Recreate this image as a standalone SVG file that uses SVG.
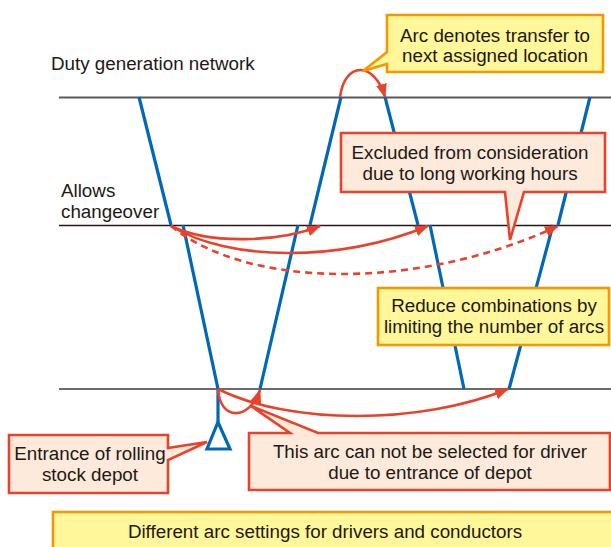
<svg xmlns="http://www.w3.org/2000/svg" width="611" height="547" viewBox="0 0 611 547">
<style>
text{font-family:"Liberation Sans",Arial,sans-serif;font-size:18.8px;fill:#231815}
.c{text-anchor:middle}
.blue{fill:none;stroke:#0068B7;stroke-width:3.2;stroke-linejoin:miter}
.arc{fill:none;stroke:#E8412C;stroke-width:2.6}
.dash{stroke-dasharray:7 5}
.yel{fill:#FFF799;stroke:#F39800;stroke-width:2.6}
.pch{fill:#FDEADA;stroke:#E8412C;stroke-width:2.6}
</style>
<defs>
<marker id="ah" markerUnits="userSpaceOnUse" markerWidth="14" markerHeight="12" refX="13" refY="5.5" orient="auto">
<path d="M0,0 L14,5.5 L0,11 Z" fill="#E8412C"/>
</marker>
</defs>
<rect width="611" height="547" fill="#fff"/>
<g id="levels">
<line x1="59" y1="97.5" x2="611" y2="97.5" stroke="#595959" stroke-width="2"/>
<line x1="59" y1="225.5" x2="611" y2="225.5" stroke="#231815" stroke-width="1.4"/>
<line x1="59" y1="389" x2="611" y2="389" stroke="#3a3a3a" stroke-width="1.6"/>
</g>
<g id="label-network"><text x="51" y="70">Duty generation network</text></g>
<g id="label-changeover"><text x="61" y="197">Allows</text><text x="61" y="218">changeover</text></g>
<g id="trains">
<line class="blue" x1="139" y1="97" x2="171" y2="225"/>
<polyline class="blue" points="183,225 218,389 218,422"/>
<path class="blue" d="M218,422 L207,449 L230,449 Z"/>
<line class="blue" x1="260" y1="389" x2="298" y2="225"/>
<line class="blue" x1="310" y1="225" x2="341" y2="97"/>
<line class="blue" x1="385" y1="97" x2="418" y2="225"/>
<line class="blue" x1="430" y1="225" x2="464" y2="389"/>
<line class="blue" x1="509" y1="389" x2="553" y2="225"/>
<line class="blue" x1="558" y1="225" x2="590" y2="97"/>
</g>
<g id="connectors">
<path class="arc" d="M340,97 C345,60 375,62 385,97" marker-end="url(#ah)"/>
<path class="arc" d="M171,226 C210,245 280,242 320,226" marker-end="url(#ah)"/>
<path class="arc" d="M171,226 C230,262 340,262 428,226" marker-end="url(#ah)"/>
<path class="arc dash" d="M171,226 C250,290 420,290 558,226" marker-end="url(#ah)"/>
<path class="arc" d="M218,389 C220,422 250,420 260,390" marker-end="url(#ah)"/>
<path class="arc" d="M218,389 C290,425 420,425 508,389" marker-end="url(#ah)"/>
</g>
<g id="callout-transfer">
<path class="yel" d="M387,15 H603 V72 H387 V64 L363,71 L387,52 Z"/>
<text class="c" x="495" y="42">Arc denotes transfer to</text>
<text class="c" x="495" y="62">next assigned location</text>
</g>
<g id="callout-excluded">
<path class="pch" d="M341,133 H605 V192 H524 L510,240 L505,192 H341 Z"/>
<text class="c" x="470" y="159">Excluded from consideration</text>
<text class="c" x="470" y="180">due to long working hours</text>
</g>
<g id="callout-reduce">
<rect class="yel" x="378" y="288" width="231" height="57"/>
<text class="c" x="494" y="312">Reduce combinations by</text>
<text class="c" x="494" y="333">limiting the number of arcs</text>
</g>
<g id="callout-depot">
<path class="pch" d="M9,435 H168 V448 L207,442 L168,460 V493 H9 Z"/>
<text class="c" x="90" y="460">Entrance of rolling</text>
<text class="c" x="90" y="481">stock depot</text>
</g>
<g id="callout-driver">
<path class="pch" d="M249,433 H290 L251,406 L318,433 H610 V490 H249 Z"/>
<text class="c" x="430" y="458">This arc can not be selected for driver</text>
<text class="c" x="430" y="479">due to entrance of depot</text>
</g>
<g id="callout-settings">
<rect class="yel" x="53" y="512" width="570" height="45"/>
<text class="c" x="325" y="538">Different arc settings for drivers and conductors</text>
</g>
</svg>
